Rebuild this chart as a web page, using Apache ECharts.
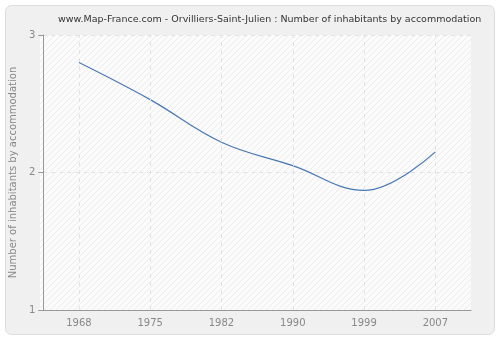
<!DOCTYPE html>
<html>
<head>
<meta charset="utf-8">
<script src="https://cdn.jsdelivr.net/npm/echarts@6/dist/echarts.min.js"></script>
<style>
html, body { margin: 0; padding: 0; background: #fff; }
#chart { width: 500px; height: 340px; }
</style>
</head>
<body>
<div id="chart"></div>
<script>
var years = ['1968', '1975', '1982', '1990', '1999', '2007'];
var inhabitants = [2.80, 2.53, 2.22, 2.05, 1.87, 2.15];
var yTicks = [1, 2, 3];

var myChart = echarts.init(document.querySelector('#chart'));

// hatched background of the plot area
var hatch = document.createElement('canvas');
hatch.width = 6;
hatch.height = 6;
var ctx = hatch.getContext('2d');
ctx.fillStyle = '#fbfbfb';
ctx.fillRect(0, 0, 6, 6);
ctx.strokeStyle = '#ececec';
ctx.lineWidth = 1;
ctx.beginPath();
ctx.moveTo(0, 6); ctx.lineTo(6, 0);
ctx.moveTo(-1, 1); ctx.lineTo(1, -1);
ctx.moveTo(5, 7); ctx.lineTo(7, 5);
ctx.stroke();

var option = {
	backgroundColor: '#fff',
	textStyle: { fontFamily: 'DejaVu Sans' },
	graphic: [{
		type: 'rect',
		z: -10,
		shape: { x: 5.5, y: 5.5, width: 489, height: 329, r: 6 },
		style: { fill: '#f0f0f0', stroke: '#dcdcdc', lineWidth: 1 }
	}, {
		type: 'rect',
		z: -9,
		shape: { x: 40, y: 35, width: 431, height: 275 },
		style: { fill: { image: hatch, repeat: 'repeat' } }
	}],
	title: {
		text: 'www.Map-France.com - Orvilliers-Saint-Julien : Number of inhabitants by accommodation',
		left: 53,
		top: 10,
		textStyle: {
			fontWeight: 'normal',
			color: '#333333',
			fontSize: 9.5,
			fontFamily: 'DejaVu Sans'
		}
	},
	grid: {
		left: 40,
		right: 29,
		top: 35,
		bottom: 30,
		containLabel: false
	},
	xAxis: {
		type: 'category',
		data: years,
		boundaryGap: true,
		axisLine: { lineStyle: { color: '#999999' } },
		axisTick: { alignWithLabel: true, length: 5, lineStyle: { color: '#999999' } },
		axisLabel: { color: '#888888', fontSize: 10, margin: 8 },
		splitLine: { show: false }
	},
	yAxis: {
		type: 'value',
		min: yTicks[0],
		max: yTicks[yTicks.length - 1],
		interval: 1,
		name: 'Number of inhabitants by accommodation',
		nameLocation: 'middle',
		nameGap: 25,
		nameTextStyle: { color: '#888888', fontSize: 10 },
		axisLine: { show: true, lineStyle: { color: '#999999' } },
		axisTick: { show: true, length: 5, lineStyle: { color: '#999999' } },
		axisLabel: { color: '#888888', fontSize: 10, margin: 8 },
		splitLine: { show: true, lineStyle: { color: '#e2e2e2', type: [4, 4] } }
	},
	series: [{
		name: 'inhabitants',
		type: 'line',
		data: inhabitants,
		smooth: 0.4,
		symbol: 'none',
		lineStyle: { color: '#4a78b2', width: 1.2 },
		markLine: {
			silent: true,
			symbol: 'none',
			label: { show: false },
			lineStyle: { color: '#e2e2e2', type: [4, 4], width: 1 },
			data: years.map(function (y) { return { xAxis: y }; })
		}
	}],
	animation: false
};

myChart.setOption(option);
</script>
</body>
</html>
